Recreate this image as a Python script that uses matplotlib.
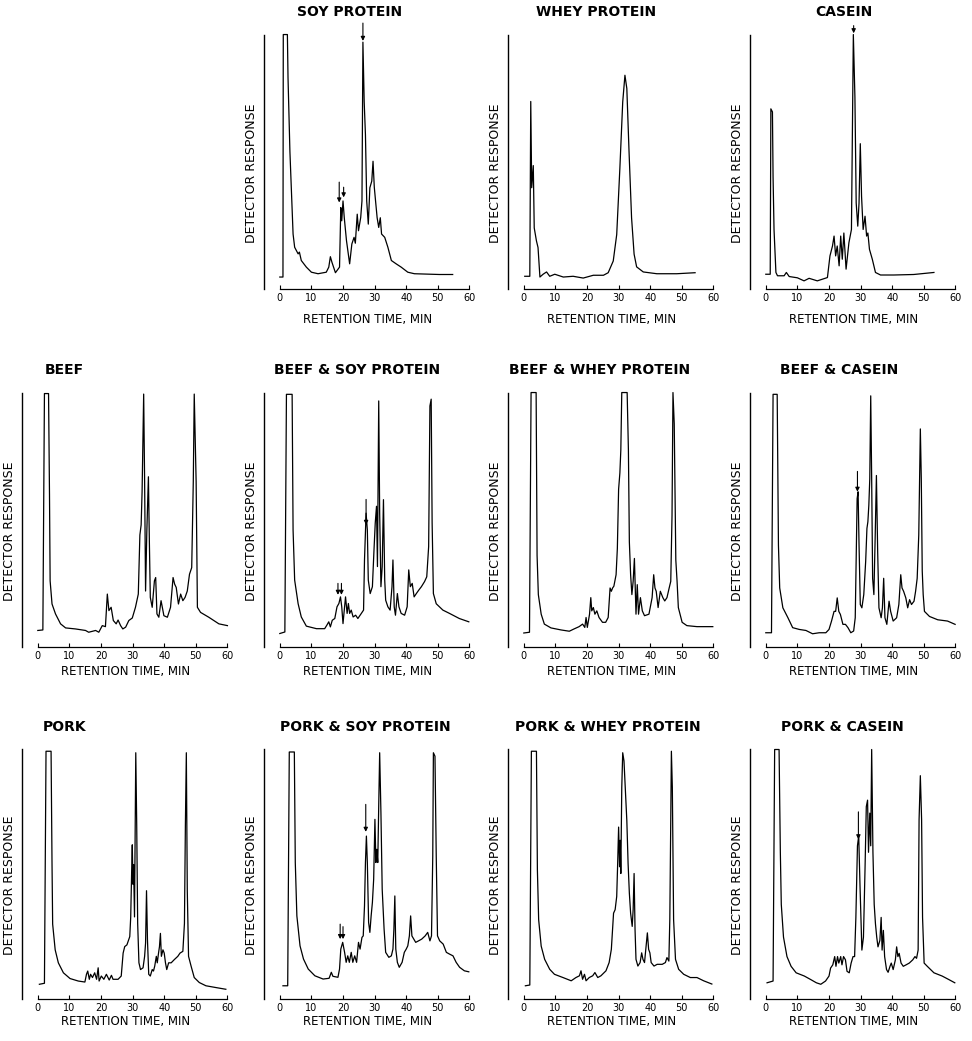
import matplotlib
matplotlib.use("Agg")
import matplotlib.pyplot as plt

plt.rcParams['font.family'] = ['DejaVu Sans']

# ---------------- data (time in min, detector response in % of full scale) -------------
SOY = [(0, 4.7), (1.0, 4.7), (1.1, 100), (1.4, 100), (2.4, 100), (2.6, 83), (3.2, 54), (4.2, 21.6),
       (4.7, 16.4), (5.8, 13.8), (6.2, 14.5), (6.8, 11.2), (8.4, 8.6), (10.0, 6.6), (12.1, 6.0),
       (14.7, 6.6), (15.5, 8.6), (16.0, 12.7), (16.5, 10.5), (17.6, 6.4), (18.9, 8.6), (19.3, 32),
       (19.6, 26.8), (20.0, 34.6), (20.4, 28), (21.1, 19), (22.1, 9.9), (22.8, 17.7), (23.5, 20.3),
       (23.9, 18.0), (24.5, 29.4), (24.9, 22.9), (25.6, 28.1), (26.0, 34.6), (26.3, 97), (26.7, 73.6),
       (27.1, 60.6), (27.5, 34.6), (28.0, 25.5), (28.5, 39.8), (29.1, 42.4), (29.5, 50.2), (29.9, 40),
       (30.3, 34.6), (30.8, 28), (31.3, 24.2), (31.8, 28), (32.2, 21.6), (33.2, 20.3), (34.2, 16.4),
       (35.3, 11.2), (36.8, 9.9), (38.4, 8.6), (40.5, 6.6), (42.6, 6.0), (50.5, 5.7), (54.7, 5.7)]

WHEY = [(0.3, 5.0), (1.9, 5.0), (2.2, 73.7), (2.5, 39.8), (3.0, 48.5), (3.3, 24), (4.0, 18.9),
        (4.5, 16.3), (5.1, 4.7), (6.1, 5.8), (7.2, 6.7), (8.2, 5.0), (9.8, 5.8), (12.5, 4.7),
        (15.6, 5.0), (18.8, 4.3), (22.0, 5.4), (25.2, 5.4), (26.7, 6.4), (28.3, 11), (29.4, 21.4),
        (30.4, 47.5), (31.3, 73.5), (32.0, 84), (32.6, 78.8), (33.3, 54), (34.1, 28), (34.9, 13.7),
        (35.7, 8.7), (37.8, 6.7), (42.1, 6.0), (48.4, 6.0), (54.2, 6.4)]

CASEIN = [(0, 5.8), (1.4, 5.8), (1.6, 70.8), (2.1, 69.6), (2.3, 44), (2.6, 23.4), (3.2, 6.5),
          (3.7, 5.2), (5.8, 5.2), (6.5, 6.5), (7.4, 4.9), (10, 4.4), (12.1, 3.2), (13.7, 4.2),
          (16.3, 3.2), (19.5, 4.5), (20.3, 13), (21.1, 16.9), (21.6, 20.8), (22.1, 13), (22.6, 16.9),
          (23.2, 9.1), (23.7, 20.8), (24.2, 11.7), (24.7, 22), (25.4, 7.8), (26.3, 18.2), (27.1, 23.4),
          (27.7, 100), (28.2, 75.3), (28.6, 33.8), (29.1, 24.7), (29.5, 33.8), (29.9, 57.1),
          (30.3, 36.4), (30.8, 23.4), (31.4, 28.6), (31.9, 20.8), (32.3, 22), (32.8, 15.6),
          (33.7, 11.7), (34.7, 6.5), (36.3, 5.5), (40.5, 5.5), (46.8, 5.7), (53.2, 6.5)]

BEEF = [(0, 6.5), (1.6, 6.7), (2.1, 99.6), (3.4, 99.6), (3.7, 60), (3.9, 26), (4.5, 16.9), (5.6, 13),
        (7.2, 9.1), (8.8, 7.5), (11.9, 7.1), (15.1, 6.5), (16.1, 5.8), (18.3, 6.5), (19.3, 5.8),
        (20.4, 8.4), (21.4, 8), (22, 20.8), (22.5, 14.3), (23.2, 15.6), (23.9, 10.4), (24.8, 9.1),
        (25.4, 10.6), (26.2, 8.4), (26.9, 7.1), (27.8, 7.8), (28.8, 10.4), (29.9, 11.4), (30.9, 15.6),
        (31.8, 20.8), (32.3, 44), (32.7, 48), (33, 61), (33.5, 99.4), (33.8, 65), (34.1, 22),
        (34.5, 45.5), (35, 66.9), (35.3, 41.6), (35.6, 19.5), (36.2, 15.6), (36.9, 26), (37.3, 27.3),
        (37.7, 13), (38.3, 11.7), (39, 18.2), (39.4, 15.6), (39.9, 12.3), (41, 11.7), (42, 15.6),
        (42.8, 27.3), (43.3, 24.7), (43.8, 23.4), (44.5, 16.9), (45.2, 20.8), (45.9, 18.2),
        (46.6, 19.5), (47.3, 22), (48, 28.6), (48.7, 31.2), (49.2, 65), (49.5, 99.4), (50.1, 65),
        (50.5, 15.6), (51.5, 13.6), (54.1, 11.7), (57.3, 9.1), (60, 8.4)]

BEEF_SOY = [(0, 5.3), (1.6, 5.9), (2.1, 99.3), (3.9, 99.3), (4.2, 46), (4.7, 26.3), (5.8, 17),
            (6.8, 11.8), (8.4, 8.2), (11.6, 7.2), (14.2, 7.2), (14.9, 8.6), (15.5, 9.9), (16, 7.9),
            (16.6, 10.5), (17.4, 11.2), (18.1, 15.8), (18.7, 17.1), (19.2, 19.7), (19.6, 15.8),
            (20, 9.2), (20.4, 14.5), (20.8, 19.7), (21.3, 13.2), (21.7, 17.1), (22.1, 13.2),
            (22.6, 14.5), (23.2, 11.8), (24, 12.5), (24.7, 11.2), (25.8, 13.2), (26.5, 14.5),
            (26.8, 34.2), (27.3, 52.6), (27.7, 46), (28, 26.3), (28.6, 21), (29.3, 23.7), (29.8, 38),
            (30.2, 48.7), (30.6, 55.3), (30.9, 31.6), (31.3, 96.7), (31.6, 52.6), (32, 23.7),
            (32.4, 31.6), (32.8, 57.9), (33.2, 26.3), (33.5, 18.4), (34.2, 15.8), (34.9, 14.5),
            (35.5, 23.7), (35.8, 34.2), (36.2, 15.8), (36.6, 12.5), (37.2, 21), (37.7, 15.8),
            (38.4, 13.2), (39.5, 12.5), (40.3, 15.8), (40.8, 30.3), (41.3, 23.7), (41.9, 25),
            (42.5, 19.7), (43.2, 21), (44, 22.4), (44.8, 23.7), (45.8, 25.7), (46.5, 27.6),
            (47.1, 39.5), (47.5, 94.7), (47.9, 97.4), (48.2, 48.7), (48.6, 21), (49.5, 17),
            (51.6, 14.5), (53.7, 13.2), (56.8, 11.2), (59.8, 9.9)]

BEEF_WHEY = [(0, 5.5), (1.8, 5.8), (2.3, 100), (3.9, 100), (4.2, 36), (4.6, 20.6), (5.5, 12.9),
             (6.5, 9), (8.6, 7.5), (11.8, 6.7), (14.4, 6.2), (15.9, 7.1), (17.5, 8), (18.6, 9),
             (19.3, 7.7), (19.7, 11.6), (20.1, 7.7), (20.8, 12.9), (21.2, 19.4), (21.5, 14.2),
             (22, 15.5), (22.5, 12.9), (23.1, 14.2), (23.8, 11.6), (24.9, 9.7), (25.9, 9.7),
             (26.7, 11.6), (27.3, 23.2), (27.7, 21.9), (28.1, 23.2), (28.5, 23.9), (29.2, 28.4),
             (29.6, 38.7), (30, 62), (30.4, 68.4), (30.7, 77.4), (31, 100), (32.7, 100), (33.1, 77.4),
             (33.4, 41.3), (33.8, 28.4), (34.2, 20.6), (34.6, 25.8), (35, 34.8), (35.5, 12.9),
             (35.9, 24.5), (36.3, 12.9), (36.9, 19.4), (37.5, 14.2), (38.2, 12.3), (39.6, 12.9),
             (40.6, 19.4), (41.1, 28.4), (41.5, 23.2), (41.9, 21.9), (42.5, 15.5), (43.2, 21.9),
             (44, 19.4), (44.6, 18.1), (45.3, 19.4), (46, 23.2), (46.5, 25.8), (46.9, 51.6),
             (47.2, 100), (47.6, 87.7), (48.1, 34.2), (48.5, 25.8), (48.9, 15.5), (50.1, 9.7),
             (51.6, 8.4), (54.8, 8), (59.8, 8)]

BEEF_CASEIN = [(0, 5.6), (1.8, 5.6), (2.3, 99.3), (3.6, 99.3), (4, 40), (4.4, 23.2), (5.4, 15.4),
               (7, 11.5), (8.5, 7.6), (10.6, 6.9), (12.7, 6.5), (14.8, 5.2), (16.9, 5.6), (19, 5.6),
               (20, 6.9), (20.8, 10.2), (21.6, 14), (22.1, 14), (22.6, 19.3), (23.1, 14), (23.6, 12.8),
               (24.4, 8.9), (25.2, 8.9), (26, 7.6), (26.9, 5.6), (27.8, 6.3), (28.3, 11.5), (28.9, 58.3),
               (29.2, 61), (29.5, 40.4), (29.9, 16.7), (30.4, 15.4), (31, 20.6), (31.6, 33.6),
               (32, 46.6), (32.3, 49.2), (32.6, 55.7), (32.9, 66.1), (33.2, 98.7), (33.5, 66.1),
               (33.8, 27), (34.2, 20.6), (34.6, 42.7), (35, 67.4), (35.4, 37.4), (35.8, 15.4),
               (36.5, 11.5), (36.9, 15.4), (37.3, 27), (37.7, 11.5), (38.3, 8.9), (39, 18), (39.5, 14),
               (40.3, 10.2), (41.4, 11.5), (42.1, 16.7), (42.7, 28.4), (43.1, 23.2), (43.6, 21.9),
               (44.3, 19.3), (44.9, 15.4), (45.5, 18.6), (46.1, 16.7), (46.9, 18), (47.4, 21.9),
               (47.9, 27), (48.4, 44), (48.9, 85.7), (49.2, 66.1), (49.5, 29.9), (49.8, 20.6),
               (50.2, 14), (51.8, 12), (54.4, 10.7), (57.5, 10.2), (59.9, 8.9)]

PORK = [(0.5, 5.9), (2.1, 6.3), (2.6, 99.3), (4.2, 99.3), (4.5, 54), (4.7, 30), (5.5, 19.7),
        (6.5, 14.5), (8.1, 10.5), (10.2, 8.2), (12.8, 7.2), (14.9, 6.8), (15.4, 9.9), (15.8, 11.2),
        (16.3, 7.9), (16.7, 9.9), (17.3, 8.6), (18, 10.5), (18.6, 7.9), (19.1, 12.5), (19.4, 7.2),
        (20.1, 9.2), (20.9, 7.9), (21.7, 9.9), (22.6, 7.6), (23.3, 9.5), (23.8, 7.9), (25.4, 7.9),
        (26.4, 9.2), (27, 18.4), (27.5, 21), (28.2, 21.7), (29.1, 25), (29.4, 32.9), (29.7, 51.3),
        (29.9, 61.8), (30.1, 46), (30.3, 53.9), (30.6, 32.9), (31, 98.7), (31.3, 69.7), (31.6, 30.3),
        (32, 14.5), (32.5, 11.8), (33.3, 12.5), (33.8, 17.1), (34.1, 22.4), (34.4, 43.4),
        (34.7, 23.7), (35.1, 9.9), (35.6, 9.2), (36.2, 11.8), (36.6, 11.2), (37, 13.2), (37.5, 17.1),
        (37.8, 14.5), (38.2, 18.4), (38.5, 21), (38.8, 26.3), (39.1, 17.1), (39.6, 19.7), (40, 18.4),
        (40.4, 14.5), (40.8, 11.8), (41.4, 14.5), (42.2, 14.5), (43.2, 15.8), (44.3, 17.1),
        (45, 18.4), (45.9, 19.1), (46.4, 30.3), (46.7, 69.7), (47, 98.7), (47.3, 43.4), (47.7, 17.1),
        (48.5, 13.2), (49.5, 8.6), (51.1, 6.6), (53.2, 5.3), (56.3, 4.6), (59.5, 3.9)]

PORK_SOY = [(1, 5.3), (2.5, 5.3), (3, 99), (4.6, 99), (4.9, 54.7), (5.4, 33.3), (6.4, 21.3), (7.5, 16),
            (9, 12), (11.1, 9.3), (13.7, 8), (15.6, 8.3), (16.3, 10.7), (16.8, 9.1), (18.4, 8.7),
            (18.9, 12), (19.3, 20), (19.9, 22.7), (20.5, 18.7), (21, 14.7), (21.5, 17.3), (22, 14.7),
            (22.6, 18.7), (23.1, 14.7), (23.7, 17.3), (24.3, 14.7), (24.9, 22.7), (25.4, 20),
            (26, 24.7), (26.4, 25.3), (26.8, 37.3), (27.1, 54.7), (27.4, 65.3), (27.7, 54.7),
            (28.1, 30.7), (28.5, 26.7), (28.9, 33.3), (29.3, 38.7), (29.7, 48), (30.1, 72),
            (30.4, 54.7), (30.7, 60), (31, 54.7), (31.3, 77.3), (31.6, 98.7), (32, 74.7), (32.4, 44),
            (33, 28), (33.5, 18.7), (34.5, 16.7), (35.3, 17.3), (35.8, 20), (36.1, 28), (36.4, 41.3),
            (36.7, 20), (37.2, 14.7), (37.8, 12.7), (38.7, 14.7), (39.4, 18.7), (40, 20), (40.5, 21.3),
            (41, 25.3), (41.4, 33.3), (41.8, 25.3), (42.4, 24), (43, 22.7), (43.9, 23.3), (44.9, 24),
            (46, 25.3), (46.8, 26.7), (47.5, 23.3), (48, 25.3), (48.4, 57.3), (48.6, 98.7),
            (49.1, 97.3), (49.5, 57.3), (49.9, 25.3), (50.6, 23.3), (51.7, 22), (52.7, 18.7),
            (53.7, 18), (54.8, 17.3), (55.8, 14.7), (56.9, 12.7), (58.4, 11.3), (59.8, 10.9)]

PORK_WHEY = [(0.5, 5.3), (1.9, 5.6), (2.4, 99.3), (4, 99.3), (4.3, 51.7), (4.7, 31.8), (5.5, 21.2),
             (6.6, 15.9), (8.2, 11.9), (9.7, 9.9), (12.4, 8.6), (15, 7.3), (16.5, 8.6), (17.6, 9.3),
             (18.1, 11.3), (18.6, 7.9), (19.2, 9.9), (19.7, 7.3), (20.7, 8.6), (21.8, 9.3),
             (22.5, 10.6), (23.4, 8.6), (24.4, 9.3), (26, 11.3), (27, 14.6), (27.7, 19.9), (28.4, 34.4),
             (28.9, 35.8), (29.4, 41.1), (29.7, 54.3), (30, 68.9), (30.3, 53), (30.5, 63.6),
             (30.7, 50.3), (31, 84.8), (31.3, 98.7), (31.7, 95.4), (32.1, 84.8), (32.6, 71.5),
             (33, 54.3), (33.4, 42.4), (33.8, 34.4), (34.3, 29.1), (34.6, 35.8), (34.9, 50.3),
             (35.2, 27.8), (35.5, 15.9), (36.1, 13.2), (36.8, 14.6), (37.3, 18.5), (37.7, 15.9),
             (38.2, 14.6), (38.6, 19.9), (39.1, 26.5), (39.5, 19.9), (39.9, 18.5), (40.3, 14.6),
             (41.2, 13.2), (42.2, 13.9), (43.8, 13.9), (44.8, 14.6), (45.3, 16.6), (45.9, 15.2),
             (46.2, 31.8), (46.5, 71.5), (46.7, 99.3), (47, 84.8), (47.4, 31.8), (48, 15.9),
             (49, 11.9), (50.6, 9.9), (52.7, 8.6), (54.8, 8.6), (56.9, 7.3), (59.5, 6)]

PORK_CASEIN = [(0.4, 6.5), (2.3, 7.2), (2.8, 100), (4.2, 100), (4.6, 58.8), (4.9, 37.9), (5.6, 24.8),
               (6.7, 17), (8, 13.1), (9.6, 10.5), (12.2, 9.2), (14.2, 7.8), (16, 6.5), (17.4, 5.9),
               (18.9, 7.2), (20, 9.2), (20.5, 12.4), (21.2, 13.7), (21.8, 17), (22.2, 13.1), (22.7, 17),
               (23.1, 14.4), (23.7, 17), (24.1, 13.7), (24.6, 17), (25.2, 15.7), (25.7, 11.1),
               (26.4, 10.5), (27, 14.4), (27.6, 17), (28.1, 17), (28.5, 32.7), (29, 61.4), (29.4, 65.4),
               (29.8, 45.8), (30.4, 19.6), (30.9, 24.8), (31.4, 52.3), (31.8, 77.1), (32.2, 79.7),
               (32.5, 58.8), (32.9, 74.5), (33.2, 61.4), (33.5, 100), (33.9, 58.8), (34.3, 37.9),
               (34.7, 30.1), (35.1, 24.8), (35.5, 20.9), (36.1, 23.5), (36.5, 32.7), (36.8, 19.6),
               (37.2, 27.5), (37.6, 17), (38.2, 11.8), (38.7, 10.7), (39.3, 13.1), (39.7, 14.4),
               (40.3, 11.8), (41, 15.7), (41.4, 20.9), (41.8, 17), (42.2, 18.3), (42.8, 14.4),
               (43.5, 13.1), (44.4, 13.7), (45.4, 14.4), (46.5, 15.7), (47.2, 17), (47.7, 16.3),
               (48.2, 19.6), (48.5, 71.9), (48.9, 89.5), (49.3, 71.9), (49.6, 32.7), (50.1, 14.4),
               (51.1, 13.1), (53.2, 10.5), (55.8, 9.2), (57.9, 7.8), (59.8, 6.5)]

# marker arrows: (time, tail response, tip response)
SOY_ARROWS = [(26.3, 104.5, 97.5), (18.8, 42, 34), (20.2, 40, 36)]
CASEIN_ARROWS = [(27.8, 103.5, 100.5)]
BEEF_SOY_ARROWS = [(27.3, 58, 48), (18.4, 25, 20.5), (19.5, 25, 20.5)]
BEEF_CASEIN_ARROWS = [(29.0, 69, 61)]
PORK_SOY_ARROWS = [(27.2, 78, 67), (19.1, 30, 24), (20.0, 29, 24)]
PORK_CASEIN_ARROWS = [(29.3, 75, 64)]

TITLES = ["SOY PROTEIN", "WHEY PROTEIN", "CASEIN",
          "BEEF", "BEEF & SOY PROTEIN", "BEEF & WHEY PROTEIN", "BEEF & CASEIN",
          "PORK", "PORK & SOY PROTEIN", "PORK & WHEY PROTEIN", "PORK & CASEIN"]
TRACES = [SOY, WHEY, CASEIN, BEEF, BEEF_SOY, BEEF_WHEY, BEEF_CASEIN,
          PORK, PORK_SOY, PORK_WHEY, PORK_CASEIN]
ARROWS = [SOY_ARROWS, [], CASEIN_ARROWS, [], BEEF_SOY_ARROWS, [], BEEF_CASEIN_ARROWS,
          [], PORK_SOY_ARROWS, [], PORK_CASEIN_ARROWS]
X_TICKS = [0, 10, 20, 30, 40, 50, 60]
X_LABEL = "RETENTION TIME, MIN"
Y_LABEL = "DETECTOR RESPONSE"

# ---------------- layout (pixels) ----------------
W, H = 972, 1041
GRID = [(0, 1), (0, 2), (0, 3), (1, 0), (1, 1), (1, 2), (1, 3), (2, 0), (2, 1), (2, 2), (2, 3)]
COL_LEFT = [22, 264, 508, 750]
AX_W = 207
ROW_BOTTOM = [289, 647, 999]
ROW_HEIGHT = [257, 257, 252]
XLABEL_PAD = [7, 3, 1]
TITLE_X = [22, 23, 24.6, 8.5, 24.3, 24, 23.3, 8.5, 27, 26.6, 24.3]

fig = plt.figure(figsize=(W / 100, H / 100), dpi=100)

for i, (r, c) in enumerate(GRID):
    left = COL_LEFT[c] / W
    bottom = 1 - ROW_BOTTOM[r] / H
    ax = fig.add_axes([left, bottom, AX_W / W, ROW_HEIGHT[r] / H])
    t = [p[0] for p in TRACES[i]]
    y = [p[1] for p in TRACES[i]]
    ax.plot(t, y, color="black", lw=0.9, clip_on=False)
    ax.set_xlim(-5, 60.5)
    ax.set_ylim(0, 101)
    for s in ("top", "right"):
        ax.spines[s].set_visible(False)
    ax.spines["bottom"].set_bounds(0, 60)
    ax.spines["left"].set_bounds(0, 100)
    ax.spines["bottom"].set_linewidth(0.9)
    ax.spines["left"].set_linewidth(1.0)
    ax.set_yticks([])
    ax.set_xticks(X_TICKS)
    ax.tick_params(axis="x", direction="in", length=3, width=0.8, labelsize=7, pad=3)
    ax.set_xlabel(X_LABEL, fontsize=8.5, labelpad=XLABEL_PAD[r])
    ax.set_ylabel(Y_LABEL, fontsize=9)
    ax.yaxis.set_label_coords(-0.03, 0.45)
    ax.annotate(TITLES[i], xy=(TITLE_X[i], 1), xycoords=("data", "axes fraction"),
                xytext=(0, 20), textcoords="offset pixels", ha="center", va="center",
                fontsize=10, fontweight="bold")
    for (ta, y0, y1) in ARROWS[i]:
        ax.annotate("", xy=(ta, y1), xytext=(ta, y0), annotation_clip=False,
                    arrowprops=dict(arrowstyle="-|>", lw=0.8, color="black",
                                    mutation_scale=6, shrinkA=0, shrinkB=0))

fig.savefig("out.png", dpi=100)
